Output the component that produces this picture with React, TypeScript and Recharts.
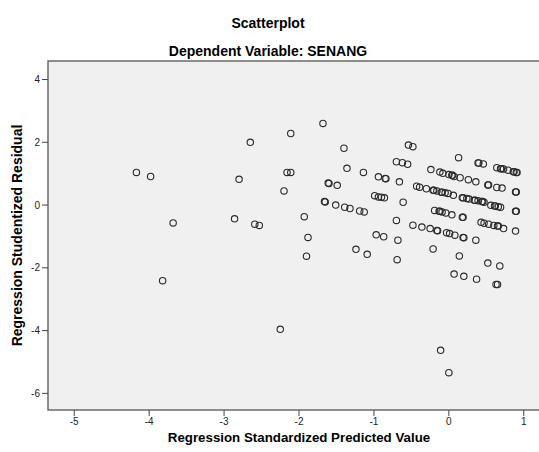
import React from "react";
import {
  ScatterChart,
  Scatter,
  XAxis,
  YAxis,
  ReferenceArea,
  Label,
} from "recharts";

const title = "Scatterplot";
const subtitle = "Dependent Variable: SENANG";
const xLabel = "Regression Standardized Predicted Value";
const yLabel = "Regression Studentized Residual";

const xTicks = [-5, -4, -3, -2, -1, 0, 1];
const yTicks = [-6, -4, -2, 0, 2, 4];
const xDomain = [-5.35, 1.35];
const yDomain = [-6.53, 4.59];

const predicted = [
  -4.17, -3.98, -3.68, -3.82, -2.86, -2.8, -2.65, -2.59, -2.53, -2.25,
  -2.2, -2.16, -2.11, -2.11, -1.93, -1.88, -1.9, -1.68, -1.6, -1.61,
  -1.49, -1.65, -1.66, -1.51, -1.39, -1.32, -1.19, -1.13, -1.4, -1.36,
  -1.14, -1.24, -1.09, -0.97, -0.87, -0.94, -0.85, -0.84, -0.66, -0.99,
  -0.94, -0.9, -0.86, -0.61, -0.7, -0.68, -0.69, -0.7, -0.62, -0.55,
  -0.54, -0.48, -0.48, -0.36, -0.25, -0.16, -0.15, -0.03, 0.01, 0.08,
  0.19, 0.2, -0.21, 0.14, 0.36, 0.52, 0.68, 0.07, 0.2, 0.37,
  0.63, 0.65, -0.11, 0.0, -0.24, 0.13, 0.39, 0.4, 0.46, -0.12,
  -0.08, 0.0, 0.04, 0.05, 0.07, 0.15, 0.26, 0.36, 0.52, 0.53,
  0.64, 0.71, 0.89, 0.9, 0.64, 0.69, 0.7, 0.73, 0.79, 0.86,
  0.87, 0.9, 0.91, -0.43, -0.39, -0.3, -0.21, -0.2, -0.16, -0.1,
  -0.09, -0.05, -0.01, 0.06, 0.18, 0.19, 0.24, 0.27, 0.34, 0.35,
  0.39, 0.44, 0.45, 0.47, 0.56, 0.61, 0.62, 0.66, 0.69, 0.89,
  0.9, -0.19, -0.13, -0.12, -0.09, -0.04, 0.04, 0.18, 0.19, 0.43,
  0.47, 0.53, 0.6, 0.65, 0.66, 0.73, 0.89,
];

const residual = [
  1.04, 0.91, -0.57, -2.41, -0.44, 0.82, 2.0, -0.61, -0.65, -3.96,
  0.45, 1.04, 1.04, 2.28, -0.37, -1.03, -1.63, 2.6, 0.69, 0.7,
  0.63, 0.1, 0.11, 0.0, -0.07, -0.11, -0.19, -0.22, 1.81, 1.17,
  1.04, -1.41, -1.57, -0.95, -1.01, 0.9, 0.85, 0.84, 0.74, 0.3,
  0.26, 0.25, 0.23, 0.09, -0.49, -1.12, -1.74, 1.38, 1.35, 1.3,
  1.91, 1.86, -0.64, -0.7, -0.75, -0.81, -0.82, -0.88, -0.91, -0.96,
  -1.03, -1.04, -1.4, -1.62, -1.12, -1.85, -1.94, -2.2, -2.27, -2.36,
  -2.53, -2.53, -4.63, -5.34, 1.13, 1.51, 1.34, 1.34, 1.31, 1.05,
  1.01, 0.97, 0.95, 0.95, 0.91, 0.87, 0.81, 0.74, 0.64, 0.64,
  0.56, 0.54, 0.42, 0.42, 1.19, 1.16, 1.16, 1.15, 1.11, 1.06,
  1.06, 1.04, 1.04, 0.6, 0.57, 0.52, 0.47, 0.47, 0.45, 0.41,
  0.41, 0.39, 0.37, 0.31, 0.23, 0.23, 0.21, 0.19, 0.15, 0.15,
  0.14, 0.11, 0.11, 0.09, -0.01, -0.03, -0.03, -0.05, -0.07, -0.2,
  -0.2, -0.17, -0.2, -0.2, -0.22, -0.25, -0.31, -0.39, -0.39, -0.55,
  -0.58, -0.61, -0.65, -0.67, -0.67, -0.75, -0.83,
];

const points = predicted.map((x, i) => ({ x, y: residual[i] }));

const FONT = '"Liberation Sans", Arial, sans-serif';

const Ring = (props: any) => {
  const { cx, cy } = props;
  if (cx == null || cy == null) return null;
  return (
    <circle cx={cx} cy={cy} r={3.2} fill="none" stroke="#2a2a2a" strokeWidth={1.1} />
  );
};

export default function App() {
  return (
    <div
      style={{
        position: "absolute",
        left: 0,
        top: 0,
        width: 560,
        height: 452,
        fontFamily: FONT,
        background: "#fff",
      }}
    >
      <div
        style={{
          position: "absolute",
          left: 0,
          width: 536,
          top: 15,
          textAlign: "center",
          fontWeight: "bold",
          fontSize: 14,
          color: "#000",
          lineHeight: "16px",
        }}
      >
        {title}
      </div>
      <div
        style={{
          position: "absolute",
          left: 0,
          width: 536,
          top: 43,
          textAlign: "center",
          fontWeight: "bold",
          fontSize: 14,
          color: "#000",
          lineHeight: "16px",
        }}
      >
        {subtitle}
      </div>
      <ScatterChart
        width={560}
        height={452}
        margin={{ top: 61, right: 10, bottom: 0, left: 0 }}
        style={{ position: "absolute", left: 0, top: 0 }}
      >
        <ReferenceArea
          x1={xDomain[0]}
          x2={xDomain[1]}
          y1={yDomain[0]}
          y2={yDomain[1]}
          fill="#f0f0f0"
          fillOpacity={1}
          stroke="#6a6a6a"
          strokeWidth={1.5}
          ifOverflow="extendDomain"
        />
        <XAxis
          type="number"
          dataKey="x"
          domain={xDomain}
          ticks={xTicks}
          allowDataOverflow
          height={42}
          tickSize={6}
          tickLine={{ stroke: "#444" }}
          axisLine={false}
          tick={{ fontSize: 10, fill: "#222", fontFamily: FONT }}
        >
          <Label
            value={xLabel}
            position="insideBottom"
            offset={10}
            style={{ fontSize: 13.3, fontWeight: "bold", fill: "#000", fontFamily: FONT }}
          />
        </XAxis>
        <YAxis
          type="number"
          dataKey="y"
          domain={yDomain}
          ticks={yTicks}
          allowDataOverflow
          width={48}
          tickSize={6}
          tickLine={{ stroke: "#444" }}
          axisLine={false}
          tick={{ fontSize: 10, fill: "#222", fontFamily: FONT }}
        >
          <Label
            value={yLabel}
            angle={-90}
            position="insideLeft"
            offset={17}
            style={{
              fontSize: 14,
              fontWeight: "bold",
              fill: "#000",
              fontFamily: FONT,
              textAnchor: "middle",
            }}
          />
        </YAxis>
        <Scatter data={points} shape={Ring} isAnimationActive={false} />
      </ScatterChart>
    </div>
  );
}
